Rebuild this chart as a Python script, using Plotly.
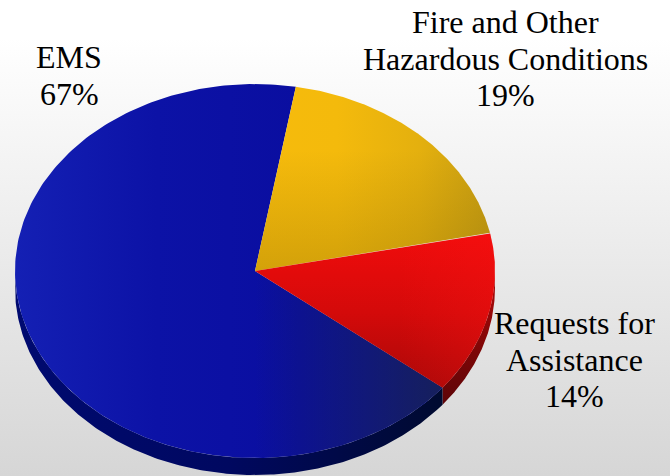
import numpy as np
import plotly.graph_objects as go

categories = ["EMS", "Fire and Other Hazardous Conditions", "Requests for Assistance"]
shares = [67, 19, 14]
label_lines = [["EMS", "67%"],
               ["Fire and Other", "Hazardous Conditions", "19%"],
               ["Requests for", "Assistance", "14%"]]

W, H = 670, 476
CX, CY, RX, RY, DEPTH = 255, 271, 240, 187, 17
START = 9.8  # degrees clockwise from top where Fire slice begins


def pt(a, dy=0):
    r = np.radians(a)
    return CX + RX * np.sin(r), CY - RY * np.cos(r) + dy


def wedge(a0, a1):
    a = np.linspace(a0, a1, 240)
    x, y = pt(a)
    return np.r_[CX, x, CX], np.r_[CY, y, CY]


def side(a0, a1):
    a = np.linspace(a0, a1, 200)
    x, y = pt(a)
    x2, y2 = pt(a[::-1], DEPTH)
    return np.r_[x, x2, x[0]], np.r_[y, y2, y[0]]


def cs(*cols):
    n = len(cols) - 1
    return [[i / n, c] for i, c in enumerate(cols)]


fig = go.Figure()


def add(x, y, gtype, scale, start=None, stop=None):
    g = dict(type=gtype, colorscale=scale)
    if start is not None:
        g.update(start=start, stop=stop)
    fig.add_trace(go.Scatter(x=x, y=y, mode="lines", line=dict(width=0), fill="toself",
                             fillgradient=g, hoverinfo="skip", showlegend=False))


# page background
add([0, W, W, 0, 0], [0, 0, H, H, 0], "vertical",
    [[0, "#ffffff"], [0.08, "#ffffff"], [1, "#d6d6d6"]], 0, H)

# slice sweep angles from the values
total = sum(shares)
fire_a0 = START
fire_a1 = fire_a0 + 360 * shares[1] / total
req_a1 = fire_a1 + 360 * shares[2] / total
ems_a1 = req_a1 + 360 * shares[0] / total

# rim
add(*side(90, req_a1), "vertical", cs("#a00808", "#7a0606", "#5a0408"), 300, 410)
add(*side(req_a1, 270), "horizontal", cs("#000a70", "#000860", "#000a30"), 15, 441)

# top face
add(*wedge(req_a1, ems_a1), "horizontal", cs("#1420b4", "#0c12a6", "#0a0ea0", "#0a10a2"), 15, 441)
add(*wedge(req_a1, 180), "horizontal",
    [[0, "rgba(24,34,80,0)"], [1, "rgba(24,34,80,0.85)"]], 255, 441)
add(*wedge(fire_a0, fire_a1), "horizontal",
    [[0, "#f6bb0c"], [0.35, "#f4ba0c"], [0.7, "#e4b00e"], [1, "#c89e12"]], 255, 490)
add(*wedge(fire_a0, fire_a1), "vertical",
    [[0, "rgba(90,70,0,0)"], [0.35, "rgba(90,70,0,0)"], [1, "rgba(90,70,0,0.22)"]], 85, 272)
add(*wedge(fire_a1, req_a1), "vertical", cs("#f00c0c", "#d40a0a", "#a80808"), 235, 390)
add(*wedge(fire_a1, req_a1), "horizontal",
    [[0, "rgba(255,20,20,0)"], [0.6, "rgba(255,20,20,0)"], [1, "rgba(255,20,20,0.3)"]], 255, 494)

anchors = [(69, 57), (505, 22), (574, 323)]
LINE = 36.5
ann = []
for lines, (ax, ay) in zip(label_lines, anchors):
    for i, t in enumerate(lines):
        ann.append(dict(x=ax, y=ay + i * LINE, xref="x", yref="y", text=t, showarrow=False,
                        xanchor="center", yanchor="middle",
                        font=dict(family="Liberation Serif", size=32, color="#000000")))

fig.update_layout(width=W, height=H, margin=dict(l=0, r=0, t=0, b=0), autosize=False,
                  paper_bgcolor="#ffffff", plot_bgcolor="#ffffff", annotations=ann,
                  xaxis=dict(range=[0, W], visible=False, fixedrange=True),
                  yaxis=dict(range=[H, 0], visible=False, fixedrange=True))
fig.write_html("out.html", config={"displayModeBar": False},
               post_script="document.body.style.margin='0';document.body.style.overflow='hidden';")
